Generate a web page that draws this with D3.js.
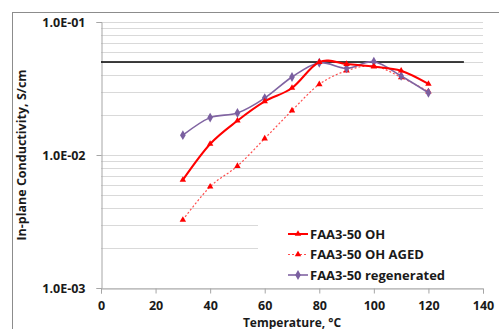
<!DOCTYPE html>
<html><head><meta charset="utf-8">
<script src="https://cdn.jsdelivr.net/npm/d3@7"></script>
<style>body{margin:0;background:#fff}svg{display:block}text{font-family:"Open Sans",Lato,sans-serif;font-weight:bold;fill:#1a1a1a}</style>
</head><body><svg id="c" width="499" height="329"></svg>
<script>
const temps = [30,40,50,60,70,80,90,100,110,120];
const ohValues = [0.0065,0.0121,0.0181,0.0253,0.0319,0.0500,0.0483,0.0461,0.0430,0.0342];
const agedValues = [0.00325,0.00578,0.00826,0.0133,0.0216,0.0340,0.0430,0.0467,0.0384,0.0300];
const regenValues = [0.0141,0.0191,0.0207,0.0268,0.0386,0.0494,0.0449,0.0503,0.0393,0.0294];
const seriesNames = ["FAA3-50 OH","FAA3-50 OH AGED","FAA3-50 regenerated"];
const xTicks = [0,20,40,60,80,100,120,140];
const yTickLabels = ["1.0E-03","1.0E-02","1.0E-01"];
const yTickValues = [0.001,0.01,0.1];
const targetValue = 0.05, targetEnd = 133;

const svg = d3.select("#c");
const L=101,R=483,T=22,B=288;
const x = d3.scaleLinear().domain([0,140]).range([L,R]);
const y = d3.scaleLog().domain([0.001,0.1]).range([B,T]);

svg.append("rect").attr("x",12.5).attr("y",12.5).attr("width",500).attr("height",330)
  .attr("fill","none").attr("stroke","#8c8c8c");

// grid
const grid=[];
[0.001,0.01].forEach(d=>{for(let k=1;k<=9;k++)grid.push(d*k)});
grid.push(0.1);
svg.append("g").selectAll("line").data(grid).join("line")
  .attr("x1",L).attr("x2",R).attr("y1",d=>Math.round(y(d))+0.5).attr("y2",d=>Math.round(y(d))+0.5)
  .attr("stroke","#d9d9d9").attr("stroke-width",1);

// axes
const yAxis = d3.axisLeft(y).tickValues(yTickValues).tickFormat((d,i)=>yTickLabels[i]).tickSize(5).tickPadding(11);
const gy = svg.append("g").attr("transform",`translate(${L+0.5},0)`).call(yAxis);
gy.selectAll("text").style("font-size","12.5px");
const xAxis = d3.axisBottom(x).tickValues(xTicks).tickFormat(d3.format("d")).tickSize(5).tickPadding(8);
const gx = svg.append("g").attr("transform",`translate(0,${B+0.5})`).call(xAxis);
gx.selectAll("text").style("font-size","12.5px");
[gx,gy].forEach(g=>{g.select(".domain").attr("stroke","#a6a6a6");g.selectAll(".tick line").attr("stroke","#a6a6a6");});

// target line
svg.append("line").attr("x1",x(0)).attr("x2",x(targetEnd)).attr("y1",y(targetValue)).attr("y2",y(targetValue))
  .attr("stroke","#000").attr("stroke-width",1.5);

const line = d3.line().x(d=>x(d[0])).y(d=>y(d[1])).curve(d3.curveCardinal.tension(0));
const tri = d3.symbol().type(d3.symbolTriangle).size(18);
const dia = d3.symbol().type(d3.symbolDiamond).size(28);
const series = [
  {vals:agedValues,color:"#ff4d4d",dash:"2,2",w:1.2,sym:tri,mc:"#ff0000"},
  {vals:regenValues,color:"#8064a2",dash:null,w:1.6,sym:dia,mc:"#7a5fa0"},
  {vals:ohValues,color:"#ff0000",dash:null,w:2,sym:tri,mc:"#ff0000"}
];
series.forEach(s=>{
  const pts = temps.map((t,i)=>[t,s.vals[i]]);
  svg.append("path").datum(pts).attr("d",line).attr("fill","none").attr("stroke",s.color)
    .attr("stroke-width",s.w).attr("stroke-dasharray",s.dash);
  svg.append("g").selectAll("path").data(pts).join("path")
    .attr("d",s.sym).attr("transform",d=>`translate(${x(d[0])},${y(d[1])})`).attr("fill",s.mc);
});

// legend
const lg = svg.append("g");
lg.append("rect").attr("x",258).attr("y",214).attr("width",R-258).attr("height",B-214).attr("fill","#fff");
const legDefs=[
  {name:seriesNames[0],color:"#ff0000",dash:null,w:2,sym:tri,mc:"#ff0000"},
  {name:seriesNames[1],color:"#ff4d4d",dash:"2,2",w:1.2,sym:tri,mc:"#ff0000"},
  {name:seriesNames[2],color:"#8064a2",dash:null,w:1.6,sym:dia,mc:"#7a5fa0"}
];
legDefs.forEach((s,i)=>{
  const yy=234+i*20.5;
  lg.append("line").attr("x1",288).attr("x2",308).attr("y1",yy).attr("y2",yy).attr("stroke",s.color)
    .attr("stroke-width",s.w).attr("stroke-dasharray",s.dash);
  lg.append("path").attr("d",s.sym).attr("transform",`translate(298,${yy})`).attr("fill",s.mc);
  lg.append("text").attr("x",310).attr("y",yy+4.5).style("font-size","13px").text(s.name);
});

// titles
svg.append("text").attr("x",(L+R)/2).attr("y",326.5).attr("text-anchor","middle").style("font-size","12px").text("Temperature, °C");
svg.append("text").attr("transform",`translate(26,${(T+B)/2}) rotate(-90)`).attr("text-anchor","middle").style("font-size","12.5px").text("In-plane Conductivity, S/cm");
</script></body></html>
